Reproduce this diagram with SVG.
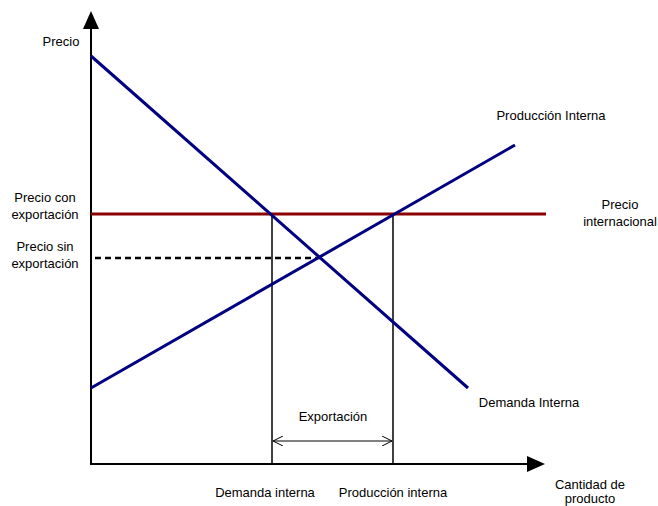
<svg xmlns="http://www.w3.org/2000/svg" width="658" height="506" viewBox="0 0 658 506">
<style>
text{font-family:"Liberation Sans",Arial,sans-serif;font-size:13px;fill:#000}
.c{text-anchor:middle}
.curve{stroke:#000080;stroke-width:3;fill:none}
.axis{stroke:#000;stroke-width:2;fill:none}
.v{stroke:#000;stroke-width:1.5;fill:none}
</style>
<defs>
<marker id="open" viewBox="0 0 10 10" refX="10" refY="5" markerWidth="10" markerHeight="10" markerUnits="userSpaceOnUse" orient="auto-start-reverse">
<path d="M0,0 L10,5 L0,10" fill="none" stroke="#000" stroke-width="1"/>
</marker>
</defs>
<rect width="658" height="506" fill="#fff"/>
<g id="connectors">
<line class="axis" x1="91" y1="465" x2="91" y2="26"/>
<polygon points="91,11 83,29 99,29" fill="#000"/>
<line class="axis" x1="90" y1="464" x2="530" y2="464"/>
<polygon points="545,464 527,456 527,472" fill="#000"/>
<line class="v" x1="272" y1="214" x2="272" y2="464"/>
<line class="v" x1="393" y1="214" x2="393" y2="464"/>
<line x1="273" y1="441" x2="392" y2="441" stroke="#000" stroke-width="1" marker-start="url(#open)" marker-end="url(#open)"/>
<line x1="95" y1="258" x2="320" y2="258" stroke="#000" stroke-width="2.5" stroke-dasharray="6,4"/>
<line x1="91" y1="214" x2="546" y2="214" stroke="#8B0000" stroke-width="3"/>
<line class="curve" x1="91" y1="56" x2="468" y2="388"/>
<line class="curve" x1="91" y1="388" x2="515" y2="145"/>
</g>
<g id="labels">
<text x="61" y="46" class="c">Precio</text>
<text x="45" y="202" class="c">Precio con</text>
<text x="45" y="219" class="c">exportación</text>
<text x="45" y="251" class="c">Precio sin</text>
<text x="45" y="268" class="c">exportación</text>
<text x="551" y="120" class="c">Producción Interna</text>
<text x="620" y="209" class="c">Precio</text>
<text x="620" y="226" class="c">internacional</text>
<text x="529" y="407" class="c">Demanda Interna</text>
<text x="333" y="421" class="c">Exportación</text>
<text x="265" y="497" class="c">Demanda interna</text>
<text x="393" y="497" class="c">Producción interna</text>
<text x="590" y="489" class="c">Cantidad de</text>
<text x="590" y="503" class="c">producto</text>
</g>
</svg>
